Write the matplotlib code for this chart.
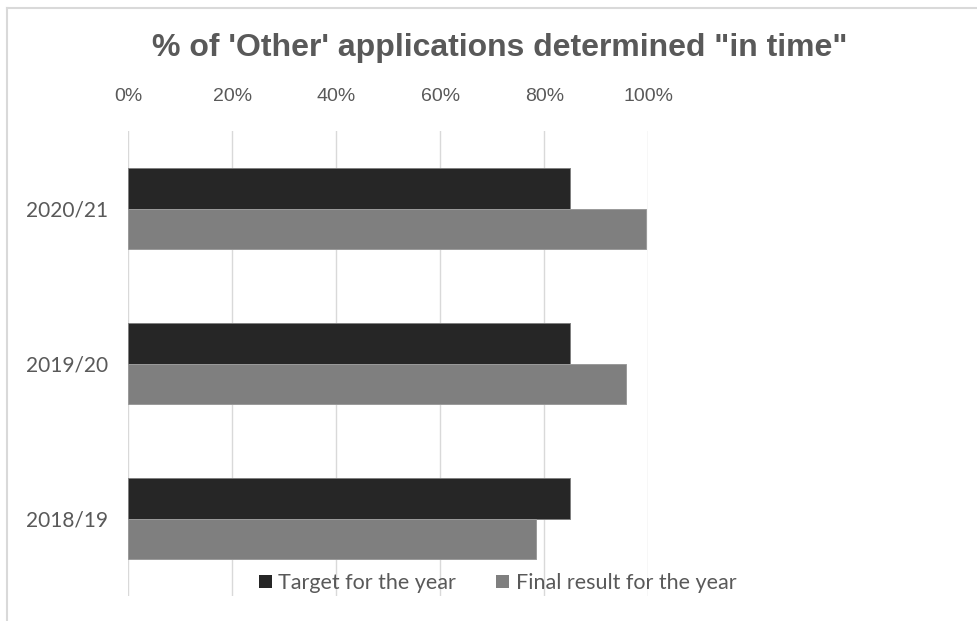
import matplotlib
matplotlib.use("Agg")
import matplotlib.pyplot as plt
from matplotlib.patches import Patch
from matplotlib.lines import Line2D
import numpy as np

categories = ["2018/19", "2019/20", "2020/21"]
target = [85, 85, 85]
final = [78.3, 95.6, 99.5]
xticks = [0, 20, 40, 60, 80, 100]
xtick_labels = ["0%", "20%", "40%", "60%", "80%", "100%"]
title = "% of 'Other' applications determined \"in time\""
series_names = ["Target for the year", "Final result for the year"]

W, H = 978, 621
fig = plt.figure(figsize=(W / 100, H / 100), dpi=100)
fig.patch.set_facecolor("white")

ax = fig.add_axes([128.5 / W, 1 - 596 / H, 520 / W, (596 - 131) / H])

y = np.arange(len(categories))
bh = 0.261
ax.barh(y + bh / 2, target, height=bh, color="#262626", edgecolor="#808080",
        linewidth=0.7, zorder=3, label=series_names[0])
ax.barh(y - bh / 2, final, height=bh, color="#7f7f7f", edgecolor="#9a9a9a",
        linewidth=0.7, zorder=3, label=series_names[1])

ax.set_xlim(0, 100)
ax.set_ylim(-0.5, len(categories) - 0.5)
for v in xticks:
    ax.axvline(v, color="#d9d9d9", lw=1.0, zorder=1)

ax.xaxis.tick_top()
ax.set_xticks(xticks)
ax.set_xticklabels(xtick_labels, fontfamily="Liberation Sans", fontsize=14,
                   color="#595959")
ax.tick_params(axis="x", length=0, pad=19)
ax.set_yticks(y)
ax.set_yticklabels(categories, fontfamily="Lato", fontsize=15, color="#595959")
ax.tick_params(axis="y", length=0, pad=15)
for s in ax.spines.values():
    s.set_visible(False)
ax.set_facecolor("none")

fig.text(500 / W, 1 - 48 / H, title, ha="center", va="center",
         fontfamily="Liberation Sans", fontweight="bold", fontsize=23,
         color="#595959")

handles = [Patch(facecolor="#262626", edgecolor="none"),
           Patch(facecolor="#7f7f7f", edgecolor="none")]
leg = fig.legend(handles, series_names, loc="center",
                 bbox_to_anchor=(497.5 / W, 1 - 583 / H), ncol=2, frameon=False,
                 prop={"family": "Lato", "size": 15.5},
                 handlelength=0.6, handleheight=0.6, handletextpad=0.3,
                 columnspacing=1.86, borderpad=0, borderaxespad=0)
for t in leg.get_texts():
    t.set_color("#595959")

# chart frame
fig.add_artist(Line2D([7 / W, 1], [1 - 8 / H, 1 - 8 / H], color="#d9d9d9",
                      lw=1.5, transform=fig.transFigure))
fig.add_artist(Line2D([7 / W, 7 / W], [0, 1 - 8 / H], color="#d9d9d9",
                      lw=1.5, transform=fig.transFigure))

fig.savefig("out.png", dpi=100)
